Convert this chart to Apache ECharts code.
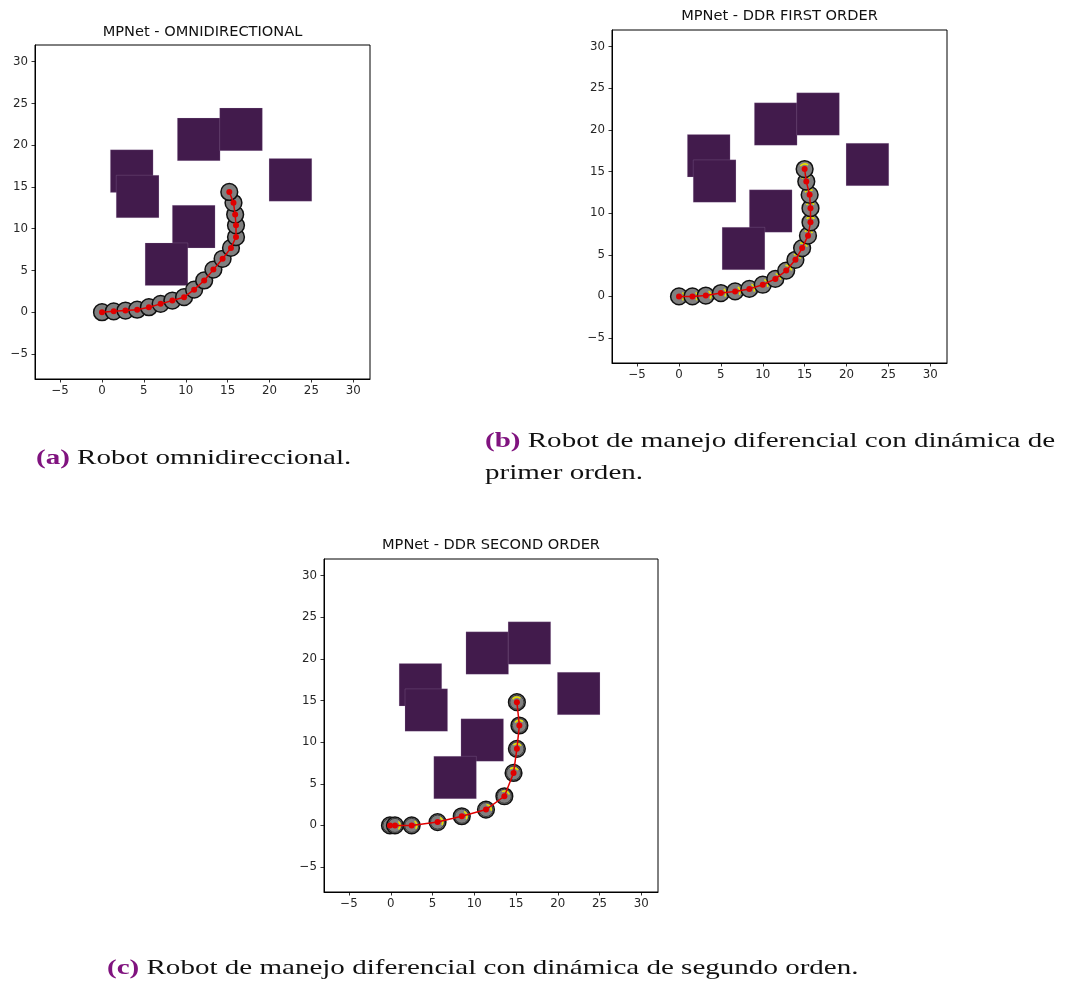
<!DOCTYPE html>
<html>
<head>
<meta charset="utf-8">
<script src="https://cdn.jsdelivr.net/npm/echarts@6/dist/echarts.min.js"></script>
<style>
html,body{margin:0;padding:0;background:#fff;}
#chart{width:1070px;height:984px;}
</style>
</head>
<body>
<div id="chart"></div>
<script>
// ---------- data ----------
const tickValues = [-5, 0, 5, 10, 15, 20, 25, 30];
const axisMin = -8, axisMax = 32;

const titles = ['MPNet - OMNIDIRECTIONAL', 'MPNet - DDR FIRST ORDER', 'MPNet - DDR SECOND ORDER'];

// obstacles (square centres, side length in data units)
const obsX = [3.55, 4.25, 11.55, 16.6, 22.5, 10.95, 7.7];
const obsY = [16.9, 13.85, 20.7, 21.9, 15.85, 10.25, 5.75];
const obsSide = 5.1;

// (a) omnidirectional path
const pathAX = [0, 1.4, 2.8, 4.2, 5.6, 7.0, 8.4, 9.8, 11.0, 12.2, 13.3, 14.4, 15.4, 16.0, 16.0, 15.9, 15.7, 15.2];
const pathAY = [0, 0.1, 0.2, 0.3, 0.6, 1.0, 1.4, 1.8, 2.7, 3.8, 5.1, 6.4, 7.7, 9.0, 10.4, 11.7, 13.1, 14.4];
// (b) DDR first order path
const pathBX = [0, 1.6, 3.2, 5.0, 6.7, 8.4, 10.0, 11.5, 12.8, 13.9, 14.7, 15.4, 15.7, 15.7, 15.6, 15.2, 15.0];
const pathBY = [0, 0.0, 0.1, 0.4, 0.6, 0.9, 1.4, 2.1, 3.1, 4.4, 5.8, 7.3, 8.9, 10.6, 12.2, 13.8, 15.3];
// (c) DDR second order path
const pathCX = [-0.1, 0.5, 2.5, 5.6, 8.5, 11.4, 13.6, 14.7, 15.1, 15.4, 15.1];
const pathCY = [0, 0, 0, 0.4, 1.1, 1.9, 3.5, 6.3, 9.2, 12.0, 14.8];

const robotRadius = 1.0;

const captions = [
  {label: '(a)', text: ' Robot omnidireccional.'},
  {label: '(b)', text: ' Robot de manejo diferencial con dinámica de'},
  {label: '', text: 'primer orden.'},
  {label: '(c)', text: ' Robot de manejo diferencial con dinámica de segundo orden.'}
];

// ---------- layout ----------
const grids = [
  {left: 35, top: 45, width: 335, height: 334},
  {left: 612, top: 30, width: 335, height: 333},
  {left: 324, top: 559, width: 334, height: 333}
];
const titlePos = [[202.5, 32], [779.5, 16], [491, 545]];
const captionPos = [[36, 458], [485, 441], [485, 473], [107, 968]];

const chart = echarts.init(document.getElementById('chart'), null, {renderer: 'canvas'});

function fmt(v) { return String(v).replace('-', '\u2212'); }

function axis(gi, isX) {
  return {
    type: 'value', gridIndex: gi, min: axisMin, max: axisMax,
    axisLine: {show: true, onZero: false, lineStyle: {color: '#000', width: 1}},
    axisTick: {show: true, inside: false, length: 3.5, customValues: tickValues, lineStyle: {color: '#000', width: 0.8}},
    axisLabel: {show: true, customValues: tickValues, formatter: fmt, margin: isX ? 6 : 7,
      fontFamily: 'DejaVu Sans', fontSize: 11.8, color: '#262626'},
    splitLine: {show: false}
  };
}

function obstacleSeries(gi) {
  return {
    type: 'custom', xAxisIndex: gi, yAxisIndex: gi, z: 1, silent: true,
    data: obsX.map((x, i) => [x, obsY[i]]),
    renderItem: function (params, api) {
      const h = obsSide / 2;
      const p1 = api.coord([api.value(0) - h, api.value(1) + h]);
      const p2 = api.coord([api.value(0) + h, api.value(1) - h]);
      return {type: 'rect', shape: {x: p1[0], y: p1[1], width: p2[0] - p1[0], height: p2[1] - p1[1]},
        style: {fill: '#421b4c', stroke: 'rgba(200,180,210,0.3)', lineWidth: 0.6}};
    }
  };
}

function robotSeries(gi, xs, ys, mode) {
  return {
    type: 'custom', xAxisIndex: gi, yAxisIndex: gi, z: 2, silent: true,
    data: xs.map((x, i) => [x, ys[i]]),
    renderItem: function (params, api) {
      const i = params.dataIndex;
      const c = api.coord([api.value(0), api.value(1)]);
      const r = api.size([robotRadius, 0])[0];
      const children = [{type: 'circle', shape: {cx: c[0], cy: c[1], r: r},
        style: {fill: '#808080', stroke: '#111', lineWidth: 1.5}}];
      if (mode >= 1) {
        let a, b;
        if (i < xs.length - 1) { a = c; b = api.coord([xs[i + 1], ys[i + 1]]); }
        else { a = api.coord([xs[i - 1], ys[i - 1]]); b = c; }
        const ang = Math.atan2(b[1] - a[1], b[0] - a[0]);
        if (mode === 2) {
          children.push({type: 'circle', shape: {cx: c[0], cy: c[1], r: r * 0.84},
            style: {fill: 'none', stroke: '#3a3a3a', lineWidth: 1}});
        }
        children.push({type: 'arc', shape: {cx: c[0], cy: c[1], r: r * 0.62, startAngle: ang - 0.85, endAngle: ang + 0.85, clockwise: true},
          style: {fill: 'none', stroke: '#e8e000', lineWidth: 1.6}});
      }
      return {type: 'group', children: children};
    }
  };
}

function pathSeries(gi, xs, ys) {
  return {
    type: 'line', xAxisIndex: gi, yAxisIndex: gi, z: 3, silent: true,
    data: xs.map((x, i) => [x, ys[i]]),
    symbol: 'circle', symbolSize: 6, showSymbol: true,
    lineStyle: {color: '#e00000', width: 1.5},
    itemStyle: {color: '#e00000', borderWidth: 0},
    animation: false
  };
}

const graphics = [];
titles.forEach((t, i) => {
  graphics.push({type: 'text', x: titlePos[i][0], y: titlePos[i][1], silent: true,
    style: {text: t, font: '14.6px "DejaVu Sans"', fill: '#111', align: 'center', verticalAlign: 'middle'}});
});
captions.forEach((c, i) => {
  const txt = c.label ? '{l|' + c.label + '}{t|' + c.text + '}' : '{t|' + c.text + '}';
  graphics.push({type: 'text', x: captionPos[i][0], y: captionPos[i][1], scaleX: 1.32, silent: true,
    style: {text: txt, verticalAlign: 'middle', align: 'left',
      rich: {
        l: {fontFamily: 'Liberation Serif', fontSize: 22, fontWeight: 'bold', fill: '#80137f', color: '#80137f'},
        t: {fontFamily: 'Liberation Serif', fontSize: 22, fill: '#111', color: '#111'}
      }}});
});

const option = {
  animation: false,
  backgroundColor: '#fff',
  grid: grids.map(g => Object.assign({show: true, borderColor: '#000', borderWidth: 1, containLabel: false}, g)),
  xAxis: [0, 1, 2].map(i => axis(i, true)),
  yAxis: [0, 1, 2].map(i => axis(i, false)),
  series: [
    obstacleSeries(0), robotSeries(0, pathAX, pathAY, 0), pathSeries(0, pathAX, pathAY),
    obstacleSeries(1), robotSeries(1, pathBX, pathBY, 1), pathSeries(1, pathBX, pathBY),
    obstacleSeries(2), robotSeries(2, pathCX, pathCY, 2), pathSeries(2, pathCX, pathCY)
  ],
  graphic: graphics
};
chart.setOption(option);
</script>
</body>
</html>
